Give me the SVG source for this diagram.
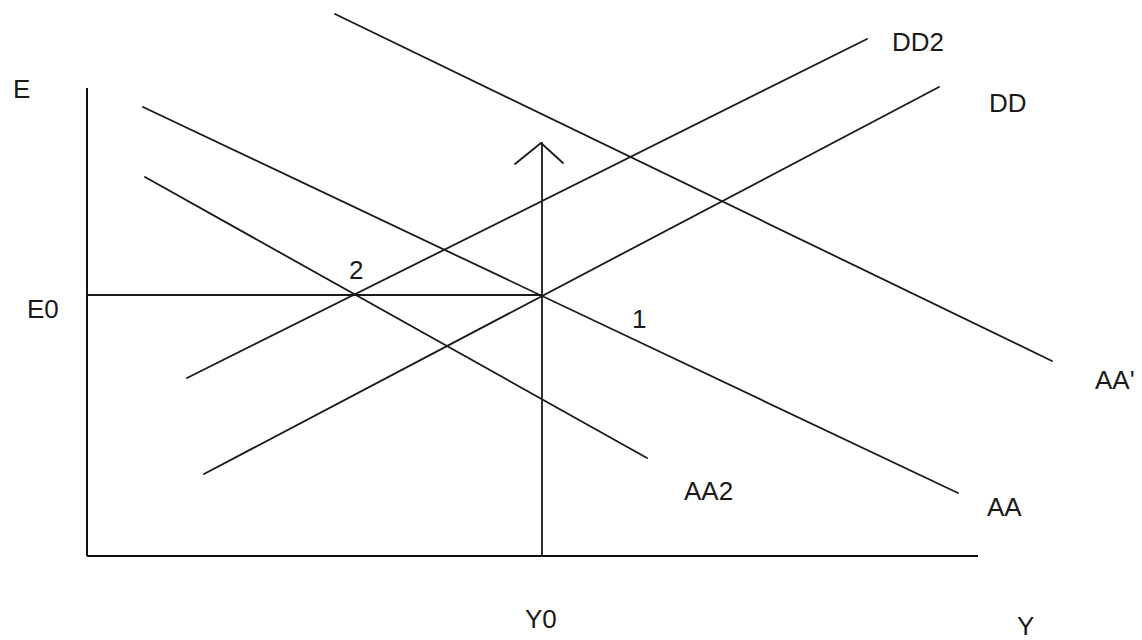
<svg xmlns="http://www.w3.org/2000/svg" width="1142" height="640" viewBox="0 0 1142 640">
<style>
.ln{stroke:#1a1a1a;stroke-width:1.8;fill:none;stroke-linecap:round}
.ax{stroke:#111;stroke-width:2;fill:none}
.t{font-family:"Liberation Sans",Arial,sans-serif;font-size:26px;fill:#1a1a1a}
</style>
<rect width="1142" height="640" fill="#fff"/>
<g id="axes">
<line class="ax" x1="87" y1="88" x2="87" y2="556"/>
<line class="ax" x1="87" y1="556" x2="978" y2="556"/>
<text class="t" x="13" y="98">E</text>
<text class="t" x="1017" y="635">Y</text>
</g>
<g id="connectors">
<line class="ln" x1="87" y1="295" x2="542" y2="295"/>
<line class="ln" x1="542" y1="143" x2="542" y2="556"/>
<polyline class="ln" points="515,164 541,143 563,163"/>
</g>
<g id="AA">
<line class="ln" x1="143" y1="107" x2="958" y2="493"/>
<text class="t" x="987" y="516">AA</text>
</g>
<g id="AA2">
<line class="ln" x1="145" y1="177" x2="647" y2="458"/>
<text class="t" x="684" y="500">AA2</text>
</g>
<g id="AAprime">
<line class="ln" x1="335" y1="14" x2="1052" y2="361"/>
<text class="t" x="1095" y="389">AA'</text>
</g>
<g id="DD">
<line class="ln" x1="204" y1="474" x2="939" y2="87"/>
<text class="t" x="989" y="112">DD</text>
</g>
<g id="DD2">
<line class="ln" x1="187" y1="378" x2="867" y2="39"/>
<text class="t" x="892" y="51">DD2</text>
</g>
<g id="labels">
<text class="t" x="27" y="318">E0</text>
<text class="t" x="525" y="628">Y0</text>
<text class="t" x="349" y="279">2</text>
<text class="t" x="632" y="328">1</text>
</g>
</svg>
